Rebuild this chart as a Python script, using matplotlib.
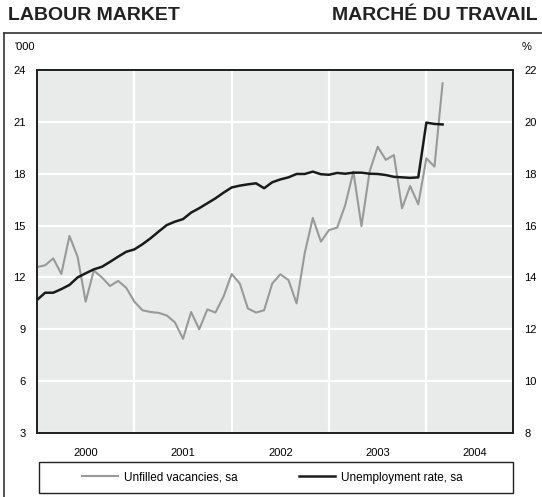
import numpy as np
import matplotlib.pyplot as plt
from matplotlib.lines import Line2D
from matplotlib.patches import Rectangle

plt.rcParams['font.family'] = ['Liberation Sans', 'DejaVu Sans']

# monthly data, Jan 2000 - Mar 2004
vacancies = [12.6, 12.7, 13.1, 12.2, 14.4, 13.2, 10.6, 12.4, 12.0, 11.5, 11.8, 11.4,
             10.6, 10.1, 10.0, 9.95, 9.8, 9.4, 8.45, 10.0, 9.0, 10.15, 9.97, 10.9,
             12.2, 11.65, 10.2, 9.97, 10.1, 11.65, 12.18, 11.85, 10.5, 13.4, 15.44, 14.07,
             14.74, 14.88, 16.19, 18.12, 14.97, 18.12, 19.56, 18.8, 19.08, 16.0, 17.29, 16.23,
             18.89, 18.41, 23.23]
unemployment = [13.13, 13.41, 13.41, 13.55, 13.71, 14.0, 14.16, 14.31, 14.41, 14.6, 14.8, 14.99,
                15.08, 15.28, 15.51, 15.77, 16.02, 16.15, 16.25, 16.5, 16.67, 16.86, 17.05, 17.27,
                17.47, 17.54, 17.59, 17.63, 17.44, 17.67, 17.78, 17.86, 17.99, 17.99, 18.08, 17.98,
                17.96, 18.03, 18.0, 18.04, 18.04, 18.0, 17.99, 17.95, 17.88, 17.86, 17.84, 17.86,
                19.97, 19.92, 19.9]
years = ['2000', '2001', '2002', '2003', '2004']
left_ticks = [3, 6, 9, 12, 15, 18, 21, 24]
right_ticks = [8, 10, 12, 14, 16, 18, 20, 22]

x = 2000 + np.arange(len(vacancies)) / 12

W, H = 542, 497
fig = plt.figure(figsize=(W / 100, H / 100), dpi=100)
ax = fig.add_axes([37 / W, 64 / H, 476 / W, 363 / H])
ax.set_facecolor('#e9eaea')
ax2 = ax.twinx()

l1, = ax.plot(x, vacancies, color='#999999', lw=1.5)
l2, = ax2.plot(x, unemployment, color='#1a1a1a', lw=1.8)

ax.set_xlim(2000, 2004.89)
ax.set_ylim(3, 24)
ax2.set_ylim(8, 22)
ax.set_yticks(left_ticks)
ax2.set_yticks(right_ticks)

ax.set_xticks([2001, 2002, 2003, 2004])
ax.set_xticklabels([])
ax.set_xticks([2000.5 + i for i in range(len(years))], minor=True)
ax.set_xticklabels(years, minor=True)

ax.grid(True, color='white', lw=1.6)
ax.set_axisbelow(True)

ax.tick_params(axis='x', which='both', length=0, pad=11, labelsize=8)
ax.tick_params(axis='y', length=0, pad=8, labelsize=8)
ax2.tick_params(axis='y', length=0, pad=8, labelsize=8)
for a in (ax, ax2):
    for s in a.spines.values():
        s.set_linewidth(1.3)
        s.set_color('#222222')

fig.text(14 / W, 1 - 47 / H, "'000", fontsize=8, va='center', ha='left')
fig.text(522 / W, 1 - 47 / H, '%', fontsize=8, va='center', ha='left')

fig.text(8 / W, 1 - 15 / H, 'LABOUR MARKET', fontsize=14, fontweight='bold',
         va='center', ha='left', color='#222222')
fig.text(538 / W, 1 - 15 / H, 'MARCHÉ DU TRAVAIL', fontsize=14, fontweight='bold',
         va='center', ha='right', color='#222222')

# outer frame
fig.add_artist(Line2D([4 / W, 4 / W], [0, 1 - 32.5 / H], color='#333333', lw=1.2))
fig.add_artist(Line2D([4 / W, 1], [1 - 32.5 / H, 1 - 32.5 / H], color='#333333', lw=1.2))

# legend box
fig.add_artist(Rectangle((39 / W, 1 - 493 / H), 474 / W, 31 / H, fill=False,
                         edgecolor='#222222', lw=1.0))
fig.legend([l1, l2], ['Unfilled vacancies, sa', 'Unemployment rate, sa'],
           loc='center', bbox_to_anchor=(272 / W, 1 - 477.5 / H), ncol=2,
           frameon=False, fontsize=8.5, handlelength=3.05, handletextpad=0.5,
           columnspacing=5.2)

fig.savefig('out.png', dpi=100)
